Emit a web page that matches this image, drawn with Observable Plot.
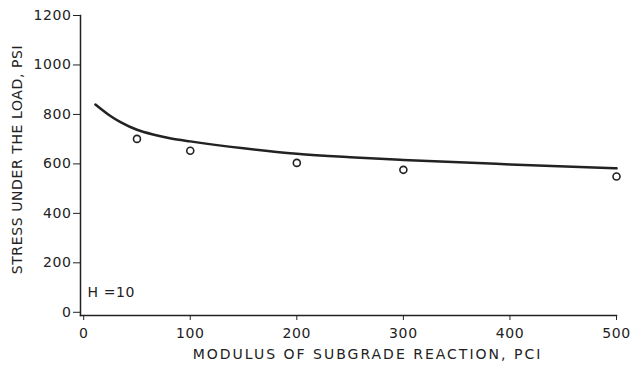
<!DOCTYPE html>
<html>
<head>
<meta charset="utf-8">
<script src="https://cdn.jsdelivr.net/npm/d3@7"></script>
<script src="https://cdn.jsdelivr.net/npm/@observablehq/plot@0.6"></script>
<style>
  html, body { margin: 0; padding: 0; background: #fff; }
  #chart svg { display: block; }
</style>
</head>
<body>
<div id="chart"></div>
<script>
// Theoretical curve (solid line): modulus of subgrade reaction k (pci) vs stress (psi)
const curveK = [11, 23, 35, 50, 67, 82, 100, 150, 200, 250, 300, 400, 500];
const curveStress = [840, 800, 768, 738, 717, 703, 691, 663, 641, 627, 616, 598, 582];

// Measured points (open circles)
const pointK = [50, 100, 200, 300, 500];
const pointStress = [701, 653, 604, 576, 549];

const xTicks = [0, 100, 200, 300, 400, 500];
const yTicks = [0, 200, 400, 600, 800, 1000, 1200];

const xLabel = "MODULUS OF SUBGRADE REACTION, PCI";
const yLabel = "STRESS UNDER THE LOAD, PSI";
const note = "H =10";

const curve = curveK.map((k, i) => ({k, s: curveStress[i]}));
const points = pointK.map((k, i) => ({k, s: pointStress[i]}));

const ink = "#222";
const font = "DejaVu Sans, sans-serif";

const chart = Plot.plot({
  width: 632,
  height: 376,
  marginLeft: 80,
  marginRight: 16,
  marginTop: 15,
  marginBottom: 61,
  style: {fontFamily: font, fontSize: "14px", color: ink, background: "#fff"},
  x: {domain: [-3, 500], ticks: xTicks},
  y: {domain: [-13, 1200], ticks: yTicks},
  marks: [
    Plot.frame({anchor: "left", stroke: ink, strokeWidth: 1.5}),
    Plot.frame({anchor: "bottom", stroke: ink, strokeWidth: 1.5}),
    Plot.axisX({ticks: xTicks, tickSize: 5, tickPadding: 8, label: null, stroke: ink, fill: ink, fontSize: 14, tickFormat: d => String(d)}),
    Plot.axisY({ticks: yTicks, tickSize: 7, tickPadding: 2, label: null, stroke: ink, fill: ink, fontSize: 14, tickFormat: d => String(d)}),
    Plot.line(curve, {x: "k", y: "s", curve: "monotone-x", stroke: ink, strokeWidth: 2.5}),
    Plot.dot(points, {x: "k", y: "s", r: 3.5, stroke: ink, strokeWidth: 1.6, fill: "#fff"}),
    Plot.text([xLabel], {frameAnchor: "bottom", textAnchor: "middle", dx: 19, dy: 43, fontSize: 14, fill: ink, fontFamily: font, className: "xlab"}),
    Plot.text([yLabel], {frameAnchor: "left", textAnchor: "middle", rotate: -90, dx: -62.5, dy: -6, fontSize: 14, fill: ink, fontFamily: font}),
    Plot.text([note], {frameAnchor: "bottom-left", textAnchor: "start", dx: 7, dy: -19, fontSize: 14, fill: ink, fontFamily: font})
  ]
});

chart.querySelectorAll("text").forEach(t => t.style.letterSpacing = "0.6px");
chart.querySelectorAll(".xlab text").forEach(t => t.style.letterSpacing = "2px");
document.getElementById("chart").appendChild(chart);
</script>
</body>
</html>
